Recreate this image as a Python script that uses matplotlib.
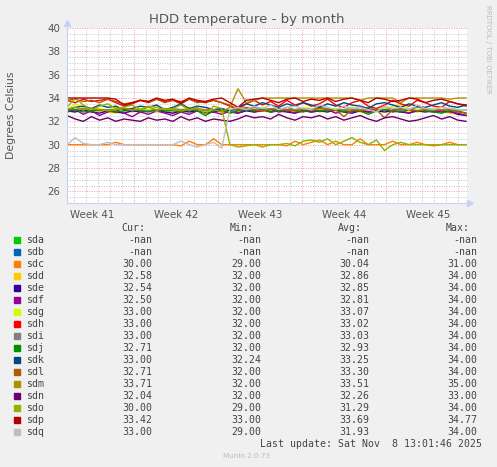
import numpy as np
import matplotlib
matplotlib.use('Agg')
import matplotlib.pyplot as plt
from matplotlib.patches import Rectangle

# drives, colours and legend numbers (Cur, Min, Avg, Max)
drives = ['sda', 'sdb', 'sdc', 'sdd', 'sde', 'sdf', 'sdg', 'sdh', 'sdi',
          'sdj', 'sdk', 'sdl', 'sdm', 'sdn', 'sdo', 'sdp', 'sdq']
colors = ['#00CC00', '#0066B3', '#FF8000', '#FFCC00', '#330099', '#990099',
          '#CCFF00', '#FF0000', '#808080', '#008F00', '#00487D', '#B35A00',
          '#B38F00', '#6B006B', '#8FB300', '#B30000', '#BEBEBE']
cur = ['-nan', '-nan', '30.00', '32.58', '32.54', '32.50', '33.00', '33.00', '33.00',
       '32.71', '33.00', '32.71', '33.71', '32.04', '30.00', '33.42', '33.00']
mins = ['-nan', '-nan', '29.00', '32.00', '32.00', '32.00', '32.00', '32.00', '32.00',
        '32.00', '32.24', '32.00', '32.00', '32.00', '29.00', '33.00', '29.00']
avgs = ['-nan', '-nan', '30.04', '32.86', '32.85', '32.81', '33.07', '33.02', '33.03',
        '32.93', '33.25', '33.30', '33.51', '32.26', '31.29', '33.69', '31.93']
maxs = ['-nan', '-nan', '31.00', '34.00', '34.00', '34.00', '34.00', '34.00', '34.00',
        '34.00', '34.00', '34.00', '35.00', '33.00', '34.00', '34.77', '34.00']

week_labels = ['Week 41', 'Week 42', 'Week 43', 'Week 44', 'Week 45']

# temperature readings, 50 samples across the month (estimated from the graph)
series = {
    'sdc': [30.0, 30.0, 30.0, 30.0, 30.0, 30.0, 30.2, 30.0, 30.0, 30.0,
            30.0, 30.0, 30.0, 30.0, 29.9, 30.3, 30.0, 30.0, 30.5, 30.0,
            30.0, 30.0, 30.0, 30.0, 30.0, 30.0, 30.0, 29.9, 30.3, 30.0,
            30.2, 30.4, 30.0, 30.3, 30.0, 30.0, 30.5, 30.0, 30.0, 30.0,
            30.3, 30.0, 30.0, 30.2, 30.0, 30.0, 30.0, 30.2, 30.0, 30.0],
    'sdd': [32.8, 32.9, 33.0, 32.8, 32.9, 32.8, 32.7, 32.9, 32.8, 33.0,
            32.9, 32.8, 32.9, 32.7, 32.8, 32.9, 33.0, 32.8, 32.9, 32.8,
            32.7, 32.9, 33.0, 32.8, 32.9, 32.8, 33.0, 32.9, 32.8, 32.9,
            33.0, 32.8, 32.9, 32.8, 32.9, 33.0, 32.8, 32.7, 32.9, 33.2,
            33.0, 32.8, 32.9, 32.8, 32.9, 32.8, 32.9, 32.7, 32.6, 32.6],
    'sde': [32.9, 32.8, 33.0, 32.8, 32.7, 32.9, 32.8, 32.7, 32.9, 32.8,
            32.9, 33.0, 32.8, 32.7, 32.9, 32.8, 32.9, 32.7, 32.8, 32.9,
            32.8, 32.7, 32.9, 32.8, 33.0, 32.8, 32.9, 32.8, 32.7, 32.9,
            32.8, 32.9, 32.8, 33.0, 32.8, 32.7, 32.9, 32.8, 32.9, 32.8,
            32.9, 32.8, 32.7, 32.9, 32.8, 32.9, 32.8, 32.9, 32.6, 32.5],
    'sdf': [32.8, 33.0, 32.6, 32.9, 32.5, 32.8, 33.0, 32.7, 32.4, 32.8,
            32.6, 32.9, 32.7, 32.5, 32.8, 32.6, 32.9, 32.7, 32.8, 32.6,
            32.9, 32.7, 33.0, 32.8, 32.9, 33.0, 32.8, 32.9, 32.7, 33.0,
            32.8, 32.9, 33.0, 32.7, 32.9, 32.8, 33.0, 32.8, 32.9, 33.0,
            32.8, 32.9, 32.7, 33.0, 32.9, 32.8, 32.9, 32.8, 32.7, 32.5],
    'sdg': [33.0, 33.5, 33.2, 33.0, 33.1, 33.0, 33.2, 33.0, 33.0, 33.1,
            33.0, 32.9, 33.0, 33.1, 33.0, 33.2, 33.0, 32.9, 33.0, 33.0,
            33.0, 33.0, 33.1, 33.0, 33.2, 33.0, 33.1, 33.0, 33.0, 33.2,
            33.1, 33.0, 33.0, 33.1, 33.0, 33.2, 33.0, 33.0, 33.1, 33.0,
            33.3, 33.4, 33.1, 33.0, 33.0, 33.1, 33.0, 33.0, 33.0, 33.0],
    'sdh': [33.8, 33.6, 33.9, 33.7, 33.8, 33.9, 33.6, 33.3, 33.5, 33.8,
            33.6, 33.9, 33.7, 33.8, 33.5, 33.9, 33.7, 33.6, 33.8, 33.6,
            33.3, 33.0, 33.5, 33.8, 33.4, 33.7, 33.3, 33.8, 33.4, 33.6,
            33.3, 33.5, 33.9, 33.4, 33.2, 33.6, 33.8, 33.3, 33.1, 33.4,
            33.8, 33.5, 33.3, 33.8, 33.6, 33.3, 33.2, 33.7, 33.5, 33.3],
    'sdi': [33.0, 33.0, 33.1, 33.0, 32.9, 33.0, 33.0, 33.1, 33.0, 33.0,
            32.9, 33.0, 33.0, 33.1, 33.0, 33.0, 33.0, 32.9, 33.0, 33.0,
            32.8, 33.0, 33.1, 33.2, 33.0, 33.1, 33.0, 33.2, 33.0, 33.1,
            33.0, 33.2, 33.1, 33.0, 33.0, 33.1, 33.0, 33.2, 33.0, 33.0,
            33.1, 33.0, 33.0, 33.2, 33.1, 33.0, 33.0, 33.1, 33.0, 33.0],
    'sdj': [32.9, 33.0, 32.8, 32.9, 33.0, 32.9, 32.8, 32.9, 33.0, 32.9,
            32.8, 33.0, 32.9, 32.9, 32.8, 33.0, 32.9, 32.5, 32.9, 33.0,
            32.7, 32.9, 33.0, 32.9, 33.0, 32.8, 32.9, 33.0, 32.9, 32.8,
            33.0, 32.9, 32.9, 33.0, 32.8, 32.9, 32.9, 32.6, 32.9, 33.0,
            32.9, 32.8, 33.0, 32.9, 32.9, 32.8, 32.7, 32.9, 32.9, 32.7],
    'sdk': [33.0, 33.2, 33.3, 33.1, 33.4, 33.2, 33.3, 33.0, 33.1, 33.3,
            33.2, 33.4, 33.0, 33.2, 33.5, 33.1, 33.3, 33.2, 33.0, 33.1,
            32.9, 33.2, 33.5, 33.3, 33.6, 33.4, 33.2, 33.5, 33.3, 33.6,
            33.4, 33.2, 33.5, 33.3, 33.6, 33.4, 33.3, 33.1, 33.5, 33.6,
            33.4, 33.2, 33.5, 33.3, 33.2, 33.4, 33.6, 33.3, 33.2, 33.4],
    'sdl': [33.8, 33.9, 33.7, 33.8, 33.6, 33.9, 33.7, 33.5, 33.6, 33.8,
            33.7, 33.9, 33.6, 33.8, 33.7, 33.9, 33.6, 33.7, 33.8, 33.6,
            33.4, 33.0, 33.2, 33.0, 32.9, 33.0, 33.1, 33.0, 32.9, 33.0,
            33.0, 33.1, 33.0, 33.0, 32.4, 33.0, 32.9, 33.0, 33.0, 32.3,
            33.0, 33.1, 33.0, 32.9, 33.0, 33.0, 32.9, 33.0, 32.8, 32.7],
    'sdm': [33.0, 33.2, 33.0, 33.1, 33.0, 32.9, 33.0, 33.1, 33.0, 33.0,
            33.2, 33.0, 33.1, 33.0, 32.9, 33.0, 33.1, 33.0, 33.0, 32.8,
            33.2, 34.8, 33.6, 33.8, 34.0, 34.0, 34.0, 34.0, 34.0, 34.0,
            34.0, 34.0, 34.0, 34.0, 34.0, 34.0, 33.8, 34.0, 34.0, 34.0,
            34.0, 33.6, 34.0, 34.0, 34.0, 34.0, 34.0, 33.9, 34.0, 34.0],
    'sdn': [32.5, 32.2, 32.0, 32.4, 32.1, 32.3, 32.0, 32.2, 32.1, 32.0,
            32.3, 32.1, 32.2, 32.0, 32.4, 32.1, 32.3, 32.0, 32.2, 32.1,
            32.0, 32.2, 32.5, 32.3, 32.4, 32.2, 32.6, 32.3, 32.1, 32.4,
            32.3, 32.5, 32.2, 32.4, 32.1, 32.3, 32.5, 32.2, 32.0, 32.3,
            32.4, 32.2, 32.0, 32.1, 32.3, 32.5, 32.2, 32.4, 32.1, 32.0],
    'sdo': [33.2, 34.0, 33.4, 33.0, 33.3, 33.5, 33.1, 33.2, 33.4, 33.0,
            33.3, 33.2, 33.0, 33.1, 33.4, 33.0, 33.2, 32.6, 33.3, 33.1,
            30.0, 29.8, 29.9, 30.0, 29.8, 30.0, 30.0, 30.1, 29.9, 30.3,
            30.4, 30.2, 30.5, 30.0, 30.3, 30.6, 30.2, 30.0, 30.4, 29.5,
            30.0, 30.2, 30.0, 30.0, 30.0, 29.9, 30.0, 30.0, 30.0, 30.0],
    'sdp': [34.0, 34.0, 34.0, 34.0, 34.0, 34.0, 33.9, 33.4, 33.6, 33.8,
            33.7, 34.0, 33.8, 33.9, 33.6, 34.0, 33.8, 33.7, 33.9, 34.0,
            33.6, 33.2, 33.8, 33.9, 34.0, 33.8, 33.6, 33.9, 34.0, 33.7,
            33.9, 33.8, 34.0, 33.7, 33.9, 34.0, 33.8, 33.6, 34.0, 33.9,
            33.7, 33.8, 34.0, 33.9, 33.6, 33.8, 33.9, 33.7, 33.5, 33.4],
    'sdq': [30.0, 30.6, 30.1, 30.0, 30.0, 30.2, 30.0, 30.0, 30.0, 30.0,
            30.0, 30.0, 30.0, 30.0, 30.3, 30.0, 29.8, 30.0, 30.2, 29.7,
            33.0, 33.2, 33.0, 33.3, 33.1, 33.4, 33.0, 33.2, 33.3, 33.1,
            33.0, 33.4, 33.2, 33.0, 33.3, 33.1, 33.2, 33.0, 32.8, 33.3,
            33.1, 33.2, 33.0, 33.4, 33.1, 33.0, 33.2, 33.1, 33.0, 33.0],
}

W, H = 497, 467
fig = plt.figure(figsize=(W / 100, H / 100), dpi=100, facecolor='#F0F0F0')

def fx(px):
    return px / W

def fy(py):
    return 1 - py / H

# plot area 67..467 px wide, 28..203 px tall
ax = fig.add_axes([fx(67), fy(203), fx(400), 175 / H])
ax.set_facecolor('white')

t = np.linspace(0, 33.25, 50)   # days since left edge
for name, col in zip(drives, colors):
    if name in series:
        ax.plot(t, series[name], color=col, lw=1.0, solid_joinstyle='miter')

ax.set_xlim(0, 400 / 12)
ax.set_ylim(25, 40)

grid_minor = dict(color='#C4C4C4', lw=0.7, ls=(0, (1, 1.5)), zorder=0)
grid_major = dict(color='#EE9A9A', lw=0.7, ls=(0, (1, 1.5)), zorder=0)
week_starts = [5.58, 12.58, 19.58, 26.58]
days = [5.58 + k for k in range(-5, 28)]
for d in days:
    if d not in week_starts:
        ax.axvline(d, **grid_minor)
for d in week_starts:
    ax.axvline(d, **grid_major)
for v in np.arange(25, 40.01, 0.5):
    if v % 2 != 0:
        ax.axhline(v, **grid_minor)
for v in range(26, 41, 2):
    ax.axhline(v, **grid_major)

ax.set_yticks(range(26, 41, 2))
ax.set_yticklabels([str(v) for v in range(26, 41, 2)])
ax.set_xticks([w - 3.5 for w in week_starts] + [week_starts[-1] + 3.5])
ax.set_xticklabels(week_labels)
ax.tick_params(axis='both', length=0, labelsize=7.4, labelcolor='#555555', pad=5)

for s in ['top', 'right']:
    ax.spines[s].set_visible(False)
for s in ['left', 'bottom']:
    ax.spines[s].set_color('#C8D0F8')
    ax.spines[s].set_linewidth(0.8)
ax.plot([0], [1.03], marker='^', ms=4, color='#C8D0F8', transform=ax.transAxes, clip_on=False)
ax.plot([1.008], [0], marker='>', ms=4, color='#C8D0F8', transform=ax.transAxes, clip_on=False)

fig.text(fx(247), fy(19), 'HDD temperature - by month', ha='center', va='center',
         fontsize=9.5, color='#555555')
fig.text(fx(11), fy(115), 'Degrees Celsius', rotation=90, ha='center', va='center',
         fontsize=7.8, color='#555555')
fig.text(fx(488), fy(5), 'RRDTOOL / TOBI OETIKER', rotation=270, ha='center', va='top',
         fontsize=5, color='#BBBBBB')

# legend table
mono = dict(family='DejaVu Sans Mono', fontsize=7.1, color='#444444', va='center')
fig.text(fx(145), fy(228.5), 'Cur:', ha='right', **mono)
fig.text(fx(254), fy(228.5), 'Min:', ha='right', **mono)
fig.text(fx(362), fy(228.5), 'Avg:', ha='right', **mono)
fig.text(fx(470), fy(228.5), 'Max:', ha='right', **mono)
for i, name in enumerate(drives):
    yy = 240 + 12 * i
    fig.patches.append(Rectangle((fx(14), fy(yy + 3)), fx(6), 6 / H,
                                 transform=fig.transFigure, color=colors[i]))
    fig.text(fx(26.5), fy(yy), name, ha='left', **mono)
    fig.text(fx(152), fy(yy), cur[i], ha='right', **mono)
    fig.text(fx(261), fy(yy), mins[i], ha='right', **mono)
    fig.text(fx(369), fy(yy), avgs[i], ha='right', **mono)
    fig.text(fx(477), fy(yy), maxs[i], ha='right', **mono)

fig.text(fx(482.5), fy(443.7), 'Last update: Sat Nov  8 13:01:46 2025', ha='right', **mono)
fig.text(fx(247), fy(456), 'Munin 2.0.73', ha='center', va='center', fontsize=5.2, color='#BBBBBB')

fig.savefig('out.png', dpi=100, facecolor=fig.get_facecolor())
